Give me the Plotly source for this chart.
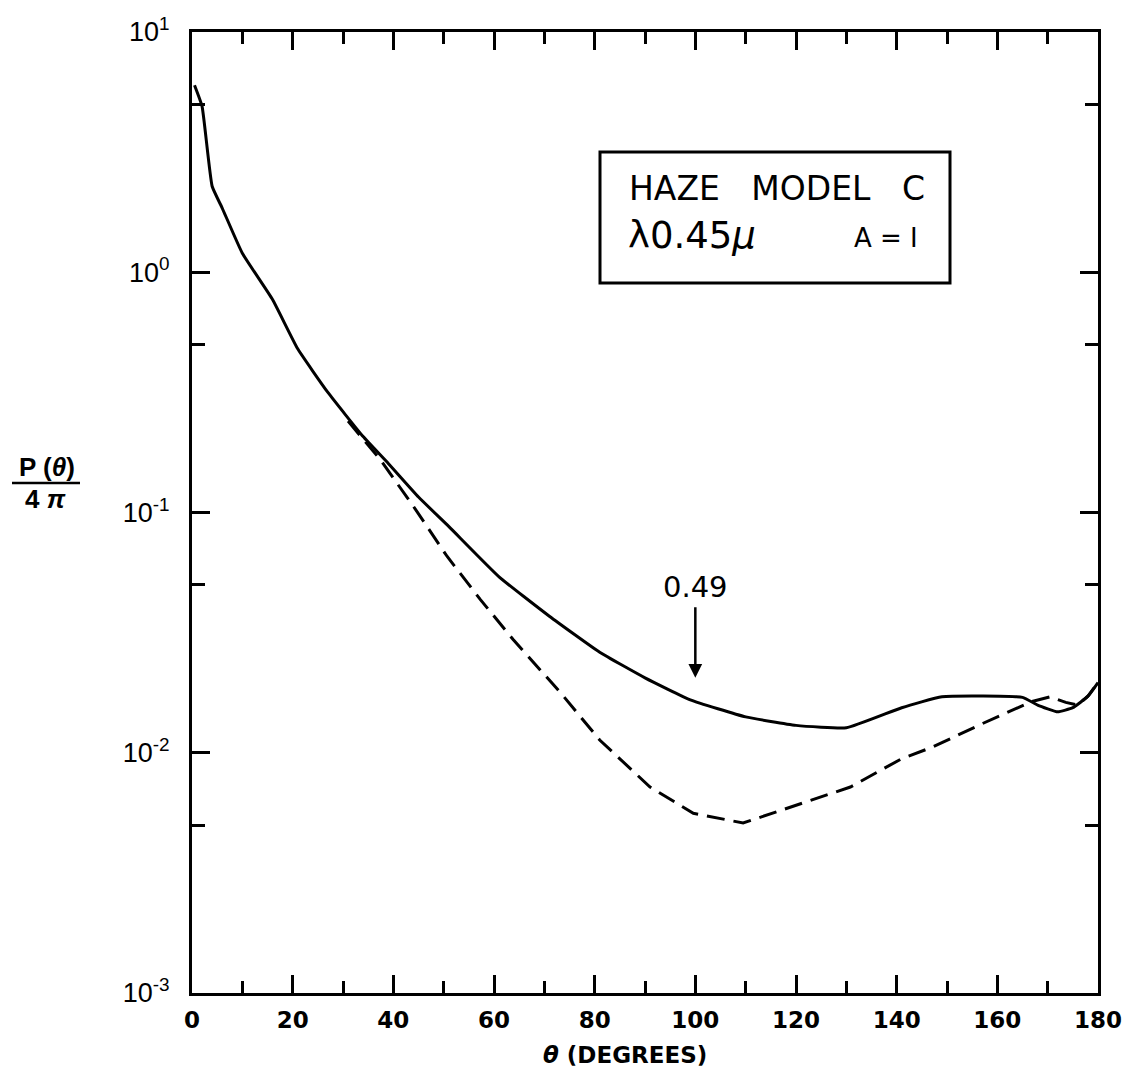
import plotly.graph_objects as go
import numpy as np

# ---- data ----
theta_solid = [0.5, 2, 4, 6, 10, 16, 21, 27, 34, 39, 45, 51, 61, 71, 81, 90, 99,
               110, 120, 130, 141, 149, 165, 168, 172, 175, 178, 180]
p_solid = [6.0, 4.9, 2.28, 1.85, 1.2, 0.77, 0.48, 0.316, 0.207, 0.16, 0.116, 0.0875,
           0.054, 0.037, 0.0262, 0.0205, 0.0166, 0.0141, 0.0130, 0.0127, 0.0154,
           0.0171, 0.0170, 0.0158, 0.0148, 0.0154, 0.0172, 0.0196]

theta_dash = [31, 37.4, 44, 50.7, 57.3, 63.8, 73.2, 81, 91, 99.6, 109.5, 119.5,
              130.8, 140.8, 147.3, 157.3, 166.7, 170.5, 173.6, 176, 178, 180]
p_dash = [0.24, 0.166, 0.106, 0.0656, 0.0434, 0.0296, 0.0178, 0.0113, 0.0072,
          0.0056, 0.0051, 0.0060, 0.0072, 0.0094, 0.0106, 0.0133, 0.0163, 0.0171,
          0.0162, 0.0158, 0.0172, 0.0196]

x_ticks = [0, 20, 40, 60, 80, 100, 120, 140, 160, 180]
x_minor = [10, 30, 50, 70, 90, 110, 130, 150, 170]
y_ticks = [1e-3, 1e-2, 1e-1, 1e0, 1e1]
y_ticktext = ["10<sup>-3</sup>", "10<sup>-2</sup>", "10<sup>-1</sup>",
              "10<sup>0</sup>", "10<sup>1</sup>"]
y_minor = [5e-3, 5e-2, 5e-1, 5e0]

arrow_theta = 100
arrow_label = "0.49"

# ---- layout geometry (pixels) ----
W, H = 1122, 1077
L, R, T, B = 192, 24, 32, 84
PW, PH = W - L - R, H - T - B


def px(x):
    return (x - L) / PW


def py(y):
    return (H - B - y) / PH


FONT = "Liberation Sans"
WIDE = "DejaVu Sans"

fig = go.Figure()
fig.add_trace(go.Scatter(x=theta_solid, y=p_solid, mode="lines",
                         line=dict(color="black", width=3, shape="spline", smoothing=0.4),
                         showlegend=False))
fig.add_trace(go.Scatter(x=theta_dash, y=p_dash, mode="lines",
                         line=dict(color="black", width=3, dash="18px,9px"),
                         showlegend=False))

fig.update_layout(
    width=W, height=H,
    margin=dict(l=L, r=R, t=T, b=B, autoexpand=False),
    paper_bgcolor="white", plot_bgcolor="white",
    font=dict(family=FONT, color="black"),
    showlegend=False,
)

fig.update_xaxes(
    range=[0, 180], tickmode="array", tickvals=x_ticks,
    ticktext=[str(v) for v in x_ticks],
    ticks="inside", ticklen=18, tickwidth=3, tickcolor="black",
    showline=True, linewidth=3, linecolor="black", mirror="ticks",
    showgrid=False, zeroline=False, ticklabelstandoff=4,
    automargin=False, ticklabeloverflow="allow",
    tickfont=dict(family=WIDE, size=23, color="black", weight="bold"),
    minor=dict(tickmode="array", tickvals=x_minor, ticks="inside",
               ticklen=12, tickwidth=3, tickcolor="black", showgrid=False),
)
fig.update_yaxes(
    type="log", range=[-3, 1], tickmode="array", tickvals=y_ticks,
    ticktext=y_ticktext,
    ticks="inside", ticklen=18, tickwidth=3, tickcolor="black",
    showline=True, linewidth=3, linecolor="black", mirror="ticks",
    showgrid=False, zeroline=False, ticklabelstandoff=14,
    automargin=False, ticklabeloverflow="allow",
    tickfont=dict(family=FONT, size=27, color="black"),
    minor=dict(tickmode="array", tickvals=y_minor, ticks="inside",
               ticklen=13, tickwidth=3, tickcolor="black", showgrid=False),
)

# legend / title box
fig.add_shape(type="rect", xref="paper", yref="paper",
              x0=px(600), x1=px(950), y0=py(283), y1=py(152),
              line=dict(color="black", width=3), fillcolor="white", layer="above")
fig.add_annotation(xref="paper", yref="paper", x=px(627), y=py(189),
                   text="HAZE   MODEL   C", showarrow=False, xanchor="left",
                   yanchor="middle", font=dict(family=WIDE, size=33, color="black"))
fig.add_annotation(xref="paper", yref="paper", x=px(626), y=py(236),
                   text="λ0.45<i>μ</i>", showarrow=False, xanchor="left",
                   yanchor="middle", font=dict(family=WIDE, size=37, color="black"))
fig.add_annotation(xref="paper", yref="paper", x=px(920), y=py(238),
                   text="A = I", showarrow=False, xanchor="right",
                   yanchor="middle", font=dict(family=WIDE, size=26, color="black"))

# 0.49 arrow
fig.add_annotation(x=arrow_theta, y=np.log10(0.0205), xref="x", yref="y",
                   ax=0, ay=-72, showarrow=True, arrowhead=2, arrowsize=1.1,
                   arrowwidth=2.5, arrowcolor="black", text="")
fig.add_annotation(x=arrow_theta, y=np.log10(0.049), xref="x", yref="y",
                   text=arrow_label, showarrow=False,
                   font=dict(family=WIDE, size=29, color="black"))

# x-axis title
fig.add_annotation(xref="paper", yref="paper", x=px(625), y=py(1055),
                   xanchor="center", yanchor="middle",
                   text="<b><i>θ</i> (DEGREES)</b>", showarrow=False,
                   font=dict(family=WIDE, size=23, color="black"))

# y-axis title as fraction P(θ)/4π
fig.add_annotation(xref="paper", yref="paper", x=px(47), y=py(467),
                   xanchor="center", yanchor="middle",
                   text="<b>P (<i>θ</i>)</b>", showarrow=False,
                   font=dict(family=FONT, size=26, color="black"))
fig.add_shape(type="line", xref="paper", yref="paper",
              x0=px(12), x1=px(80), y0=py(483), y1=py(483),
              line=dict(color="black", width=2.5))
fig.add_annotation(xref="paper", yref="paper", x=px(45), y=py(499),
                   xanchor="center", yanchor="middle",
                   text="<b>4 <i>π</i></b>", showarrow=False,
                   font=dict(family=FONT, size=26, color="black"))

fig.write_html("out.html")
